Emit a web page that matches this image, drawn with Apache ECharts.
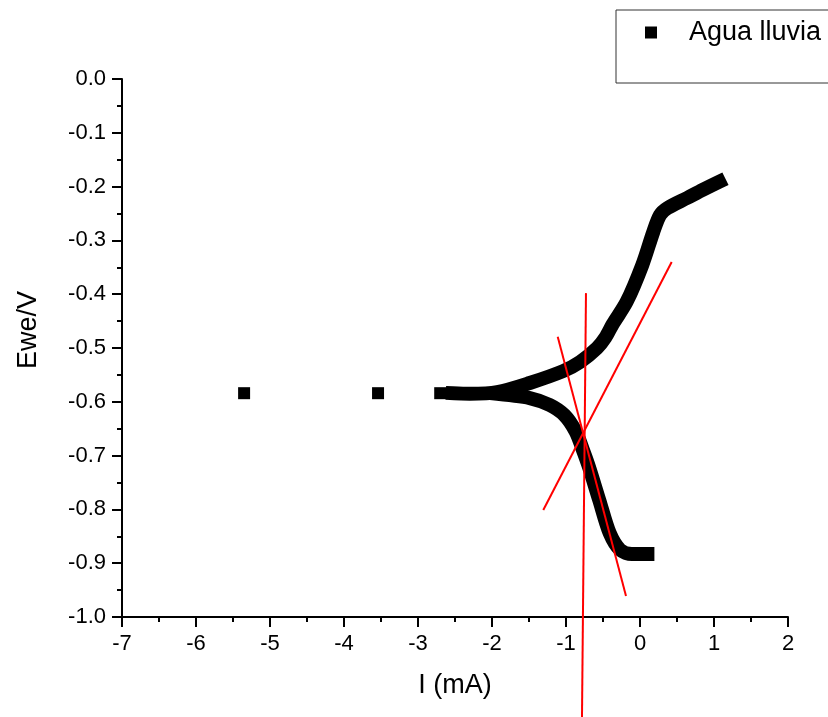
<!DOCTYPE html>
<html>
<head>
<meta charset="utf-8">
<style>
  html, body { margin: 0; padding: 0; background: #fff; }
  #chart { width: 828px; height: 717px; }
</style>
<script src="https://cdn.jsdelivr.net/npm/echarts@6/dist/echarts.min.js"></script>
</head>
<body>
<div id="chart"></div>
<script>
// Polarization curve: potential (Ewe/V) against current I (mA)
const seriesName = 'Agua lluvia';

// Sparse points near the corrosion potential
const isolatedI = [-5.35, -3.54, -2.70];
const isolatedE = [-0.584, -0.584, -0.584];

// Anodic branch (upper)
const upperI = [-2.53, -2.30, -1.93, -1.49, -1.04, -0.81, -0.58, -0.47, -0.37, -0.18, 0.03, 0.18, 0.27, 0.37, 0.64, 0.85, 1.07];
const upperE = [-0.584, -0.585, -0.582, -0.565, -0.543, -0.526, -0.500, -0.481, -0.456, -0.414, -0.346, -0.284, -0.253, -0.240, -0.221, -0.206, -0.191];

// Cathodic branch (lower)
const lowerI = [-1.93, -1.49, -1.22, -1.02, -0.87, -0.77, -0.69, -0.55, -0.41, -0.27, -0.11, 0.10];
const lowerE = [-0.585, -0.593, -0.606, -0.625, -0.655, -0.690, -0.721, -0.783, -0.844, -0.875, -0.883, -0.883];

// Tafel construction lines (two end points each)
const vertLineI = [-0.730, -0.784];
const vertLineE = [-0.398, -1.186];
const steepLineI = [-1.112, -0.189];
const steepLineE = [-0.479, -0.961];
const riseLineI = [-1.307, 0.428];
const riseLineE = [-0.801, -0.340];

// Axis ranges / ticks
const xMin = -7, xMax = 2, xStep = 1;
const yMin = -1.0, yMax = 0.0, yStep = 0.1;

const pairs = (xs, ys) => xs.map((x, i) => [x, ys[i]]);
const font = '"Liberation Sans", Arial, Helvetica, sans-serif';

const axisCommon = {
  axisLine: { show: true, onZero: false, lineStyle: { color: '#000', width: 2 } },
  axisTick: { show: true, inside: false, length: 10, lineStyle: { color: '#000', width: 2 } },
  minorTick: { show: true, splitNumber: 2, length: 5, lineStyle: { color: '#000', width: 2 } },
  splitLine: { show: false }
};

const redLine = (name, xs, ys) => ({
  name: name,
  type: 'line',
  data: pairs(xs, ys),
  clip: false,
  showSymbol: false,
  silent: true,
  z: 5,
  lineStyle: { color: '#ff0000', width: 2 }
});

const branchStyle = {
  type: 'line',
  smooth: 0.3,
  showSymbol: false,
  itemStyle: { color: '#000', opacity: 1 },
  lineStyle: { color: '#000', width: 14, cap: 'square', join: 'round' },
  z: 3
};

const chart = echarts.init(document.getElementById('chart'), null, { renderer: 'canvas' });

chart.setOption({
  animation: false,
  backgroundColor: '#fff',
  textStyle: { fontFamily: font },
  grid: { left: 122, right: 40, top: 79, bottom: 100, containLabel: false },
  legend: {
    data: [{ name: seriesName, icon: 'rect', itemStyle: { color: '#000', opacity: 1 } }],
    left: 616,
    top: 10,
    orient: 'vertical',
    itemWidth: 12,
    itemHeight: 12,
    borderColor: '#333',
    borderWidth: 1,
    padding: [9, 60, 37, 29],
    textStyle: { color: '#000', fontSize: 27, fontFamily: font, padding: [0, 0, 0, 27] }
  },
  xAxis: Object.assign({}, axisCommon, {
    type: 'value',
    min: xMin, max: xMax, interval: xStep,
    name: 'I (mA)',
    nameLocation: 'middle',
    nameGap: 55,
    nameTextStyle: { color: '#000', fontSize: 27, fontFamily: font },
    axisLabel: { color: '#000', fontSize: 22, fontFamily: font, margin: 16 }
  }),
  yAxis: Object.assign({}, axisCommon, {
    type: 'value',
    min: yMin, max: yMax, interval: yStep,
    name: 'Ewe/V',
    nameLocation: 'middle',
    nameRotate: 90,
    nameGap: 80,
    nameTextStyle: { color: '#000', fontSize: 27, fontFamily: font, padding: [0, 0, 0, 36] },
    axisLabel: {
      color: '#000', fontSize: 22, fontFamily: font, margin: 16,
      formatter: v => v.toFixed(1)
    }
  }),
  series: [
    {
      name: seriesName,
      type: 'scatter',
      data: pairs(isolatedI, isolatedE),
      symbol: 'rect',
      symbolSize: 12,
      itemStyle: { color: '#000', opacity: 1 },
      z: 3
    },
    Object.assign({ name: seriesName, data: pairs(upperI, upperE) }, branchStyle),
    Object.assign({ name: seriesName, data: pairs(lowerI, lowerE) }, branchStyle),
    redLine('tafel-1', vertLineI, vertLineE),
    redLine('tafel-2', steepLineI, steepLineE),
    redLine('tafel-3', riseLineI, riseLineE)
  ]
});
</script>
</body>
</html>
